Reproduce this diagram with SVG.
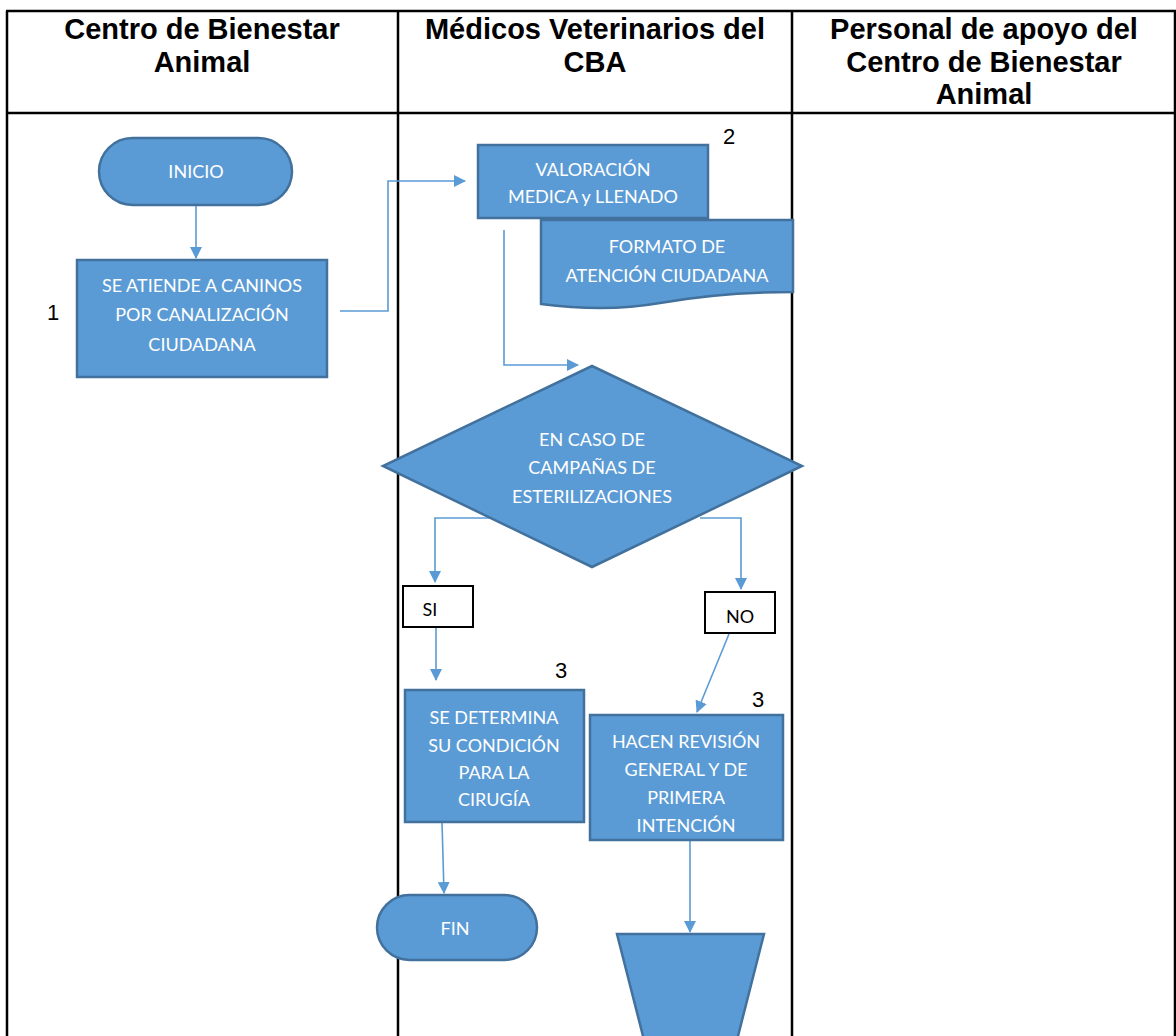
<svg xmlns="http://www.w3.org/2000/svg" width="1176" height="1036" viewBox="0 0 1176 1036">
<defs>
<style>
.hdr{font-family:"Liberation Sans",Arial,sans-serif;font-weight:bold;font-size:29px;fill:#000;text-anchor:middle}
.num{font-family:"Liberation Sans",Arial,sans-serif;font-size:22px;fill:#000;text-anchor:middle}
.lbl{font-family:Lato,"Open Sans",sans-serif;font-size:18px;fill:#fff;text-anchor:middle}
.blk{font-family:Lato,"Open Sans",sans-serif;font-size:18px;fill:#000;text-anchor:middle}
.shape{fill:#5B9BD5;stroke:#41719C;stroke-width:2.5}
.wbox{fill:#fff;stroke:#000;stroke-width:2}
.grid{stroke:#000;stroke-width:2.5;fill:none}
.conn{stroke:#5B9BD5;stroke-width:1.6;fill:none}
</style>
<marker id="arr" viewBox="0 0 12 12" refX="11" refY="6" markerWidth="12" markerHeight="12" markerUnits="userSpaceOnUse" orient="auto">
<path d="M0,0 L12,6 L0,12 Z" fill="#5B9BD5"/>
</marker>
</defs>
<rect width="1176" height="1036" fill="#fff"/>
<g id="table">
<line class="grid" x1="6" y1="11" x2="1176" y2="11"/>
<line class="grid" x1="6" y1="113" x2="1176" y2="113"/>
<line class="grid" x1="7" y1="11" x2="7" y2="1036"/>
<line class="grid" x1="398" y1="11" x2="398" y2="1036"/>
<line class="grid" x1="792" y1="11" x2="792" y2="1036"/>
<line class="grid" x1="1175" y1="11" x2="1175" y2="1036"/>
<text class="hdr" x="202" y="39">Centro de Bienestar</text>
<text class="hdr" x="202" y="72">Animal</text>
<text class="hdr" x="595" y="39">Médicos Veterinarios del</text>
<text class="hdr" x="595" y="72">CBA</text>
<text class="hdr" x="984" y="39">Personal de apoyo del</text>
<text class="hdr" x="984" y="72">Centro de Bienestar</text>
<text class="hdr" x="984" y="104">Animal</text>
</g>
<g id="connectors">
<line class="conn" x1="196" y1="205" x2="196" y2="258" marker-end="url(#arr)"/>
<polyline class="conn" points="340,311 388,311 388,181 465,181" marker-end="url(#arr)"/>
<polyline class="conn" points="504,230 504,365 578,365" marker-end="url(#arr)"/>
<polyline class="conn" points="490,518 435,518 435,582" marker-end="url(#arr)"/>
<line class="conn" x1="436" y1="628" x2="436" y2="680" marker-end="url(#arr)"/>
<polyline class="conn" points="700,518 741,518 741,589" marker-end="url(#arr)"/>
<line class="conn" x1="729" y1="634" x2="697" y2="712" marker-end="url(#arr)"/>
<line class="conn" x1="442" y1="822" x2="444" y2="893" marker-end="url(#arr)"/>
<line class="conn" x1="690" y1="840" x2="690" y2="932" marker-end="url(#arr)"/>
</g>
<g id="inicio">
<rect class="shape" x="99" y="138" width="193" height="67" rx="33.5"/>
<text class="lbl" x="196" y="178">INICIO</text>
</g>
<g id="atiende">
<rect class="shape" x="77" y="260" width="250" height="117"/>
<text class="lbl" x="202" y="292">SE ATIENDE A CANINOS</text>
<text class="lbl" x="202" y="321">POR CANALIZACIÓN</text>
<text class="lbl" x="202" y="351">CIUDADANA</text>
<text class="num" x="53" y="320">1</text>
</g>
<g id="valoracion">
<rect class="shape" x="478" y="145" width="230" height="73"/>
<text class="lbl" x="593" y="176">VALORACIÓN</text>
<text class="lbl" x="593" y="203">MEDICA y LLENADO</text>
<text class="num" x="729" y="144">2</text>
</g>
<g id="formato">
<path class="shape" d="M541,220 H793 V292 C750,292 700,296 660,303 C620,310 580,309 541,304 Z"/>
<text class="lbl" x="667" y="253">FORMATO DE</text>
<text class="lbl" x="667" y="282">ATENCIÓN CIUDADANA</text>
</g>
<g id="decision">
<polygon class="shape" points="592,366 802,466 592,567 383,466"/>
<text class="lbl" x="592" y="446">EN CASO DE</text>
<text class="lbl" x="592" y="474">CAMPAÑAS DE</text>
<text class="lbl" x="592" y="503">ESTERILIZACIONES</text>
</g>
<g id="si">
<rect class="wbox" x="403" y="586" width="70" height="41"/>
<text class="blk" x="430" y="616">SI</text>
</g>
<g id="no">
<rect class="wbox" x="705" y="592" width="70" height="41"/>
<text class="blk" x="740" y="623">NO</text>
</g>
<g id="determina">
<rect class="shape" x="405" y="690" width="179" height="132"/>
<text class="lbl" x="494" y="724">SE DETERMINA</text>
<text class="lbl" x="494" y="752">SU CONDICIÓN</text>
<text class="lbl" x="494" y="779">PARA LA</text>
<text class="lbl" x="494" y="806">CIRUGÍA</text>
<text class="num" x="561" y="678">3</text>
</g>
<g id="revision">
<rect class="shape" x="590" y="715" width="193" height="125"/>
<text class="lbl" x="686" y="748">HACEN REVISIÓN</text>
<text class="lbl" x="686" y="776">GENERAL Y DE</text>
<text class="lbl" x="686" y="804">PRIMERA</text>
<text class="lbl" x="686" y="832">INTENCIÓN</text>
<text class="num" x="758" y="707">3</text>
</g>
<g id="fin">
<rect class="shape" x="377" y="895" width="160" height="65" rx="32.5"/>
<text class="lbl" x="455" y="935">FIN</text>
</g>
<g id="manual">
<polygon class="shape" points="617,934 764,934 737,1040 644,1040"/>
</g>
</svg>
